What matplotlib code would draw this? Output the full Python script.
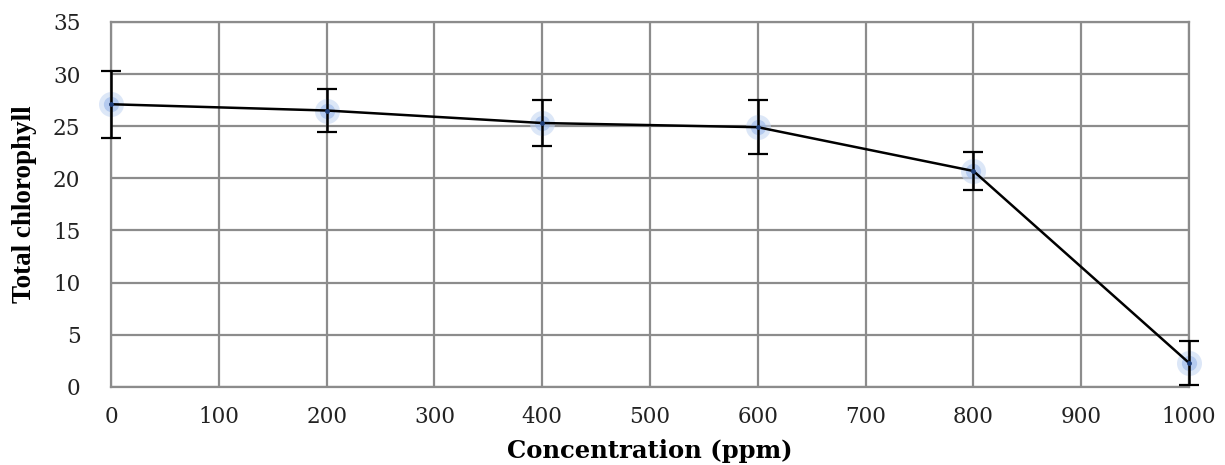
import matplotlib
matplotlib.use("Agg")
import matplotlib.pyplot as plt

conc = [0, 200, 400, 600, 800, 1000]
chl = [27.1, 26.5, 25.3, 24.9, 20.7, 2.3]
err = [3.2, 2.1, 2.2, 2.6, 1.85, 2.1]
xticks = list(range(0, 1001, 100))
yticks = list(range(0, 36, 5))

fig = plt.figure(figsize=(12.25, 4.65), dpi=100)
ax = fig.add_axes([0.0906, 0.168, 0.880, 0.785])
ax.set_xlim(0, 1000)
ax.set_ylim(0, 35)
ax.set_xticks(xticks)
ax.set_yticks(yticks)
ax.grid(True, color="#8c8c8c", linewidth=1.6)
ax.set_axisbelow(True)
for s in ax.spines.values():
    s.set_color("#8c8c8c")
    s.set_linewidth(1.6)
ax.tick_params(axis="x", length=0, pad=14, labelsize=15.5)
ax.tick_params(axis="y", length=0, pad=22, labelsize=15.5)
for lab in ax.get_xticklabels() + ax.get_yticklabels():
    lab.set_fontfamily("DejaVu Serif")
    lab.set_color("#222222")

ax.errorbar(conc, chl, yerr=err, color="black", linewidth=1.8, ecolor="black",
            elinewidth=1.8, capsize=7, capthick=1.6, zorder=3, clip_on=False)
ax.plot(conc, chl, linestyle="none", marker="o", markersize=18,
        markerfacecolor="#c6d7f3", markeredgecolor="none", alpha=0.6,
        zorder=2, clip_on=False)
ax.plot(conc, chl, linestyle="none", marker="o", markersize=11,
        markerfacecolor="#9ab8ea", markeredgecolor="none", alpha=0.6,
        zorder=2, clip_on=False)
ax.plot(conc, chl, linestyle="none", marker="o", markersize=3.5,
        markerfacecolor="#1f3f7a", markeredgecolor="none", zorder=4, clip_on=False)

ax.set_xlabel("Concentration (ppm)", fontsize=17.5, fontweight="bold",
              fontfamily="DejaVu Serif", va="center")
ax.xaxis.set_label_coords(0.5, -0.175)
ax.set_ylabel("Total chlorophyll", fontsize=19.5, fontweight="bold",
              fontfamily="Liberation Serif", va="center")
ax.yaxis.set_label_coords(-0.080, 0.5)

fig.savefig("out.png", dpi=100)
